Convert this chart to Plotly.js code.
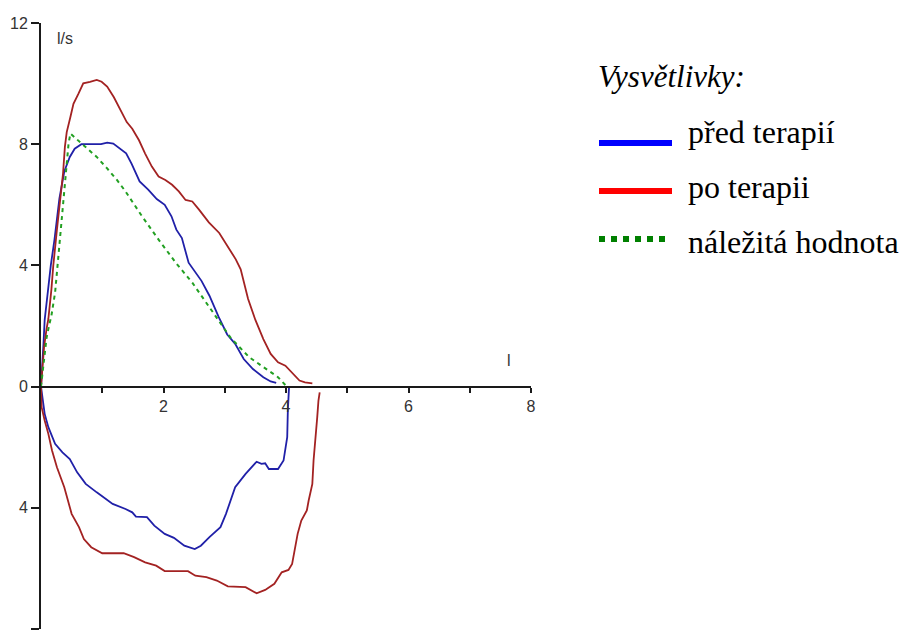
<!DOCTYPE html>
<html>
<head>
<meta charset="utf-8">
<script src="https://cdn.plot.ly/plotly-3.0.1.min.js"></script>
<style>html,body{margin:0;padding:0;background:#fff;}#chart{width:902px;height:635px;}</style>
</head>
<body>
<div id="chart"></div>
<script>
// ---- data (volume l, flow l/s; inspiratory flow plotted below the axis as negative) ----
const beforeExpX = [0,0.02,0.04,0.06,0.09,0.12,0.16,0.22,0.30,0.38,0.47,0.55,0.66,0.98,1.08,1.18,1.29,1.39,1.48,1.61,1.75,1.89,2.02,2.13,2.21,2.30,2.41,2.51,2.62,2.75,2.90,3.04,3.17,3.31,3.46,3.63,3.75,3.84];
const beforeExpY = [0,0.6,1.4,2.2,2.8,3.3,4.0,4.85,6.2,7.1,7.58,7.85,8.0,8.0,8.05,8.02,7.85,7.7,7.35,6.77,6.5,6.19,6.0,5.62,5.18,4.9,4.09,3.81,3.49,3.0,2.3,1.72,1.41,0.91,0.58,0.31,0.17,0.12];
const beforeInspX = [0,0.03,0.06,0.12,0.23,0.35,0.47,0.59,0.73,0.91,1.17,1.38,1.49,1.55,1.73,1.85,2.02,2.17,2.34,2.51,2.61,2.75,2.93,3.02,3.17,3.34,3.52,3.60,3.66,3.72,3.87,3.96,3.99,4.02,4.03,4.04,4.05];
const beforeInspY = [0,-0.46,-0.9,-1.34,-1.89,-2.17,-2.39,-2.83,-3.21,-3.49,-3.87,-4.04,-4.15,-4.29,-4.31,-4.59,-4.86,-4.99,-5.25,-5.36,-5.25,-4.97,-4.64,-4.2,-3.32,-2.88,-2.48,-2.55,-2.53,-2.72,-2.72,-2.44,-2.0,-1.67,-0.79,-0.3,0];
const afterExpX = [0,0.02,0.05,0.09,0.12,0.17,0.2,0.26,0.31,0.36,0.39,0.42,0.48,0.53,0.61,0.69,0.8,0.91,0.99,1.08,1.19,1.3,1.4,1.49,1.6,1.7,1.81,1.92,2.03,2.14,2.25,2.36,2.47,2.58,2.74,2.91,3.04,3.18,3.26,3.32,3.38,3.5,3.63,3.75,3.87,3.99,4.1,4.22,4.31,4.43];
const afterExpY = [0,0.5,1.3,1.9,2.23,3.21,3.98,5.18,6.16,7.04,7.91,8.4,8.9,9.33,9.66,10.01,10.06,10.12,10.06,9.9,9.55,9.11,8.73,8.51,8.13,7.69,7.26,6.93,6.82,6.66,6.44,6.16,6.11,5.84,5.42,5.07,4.63,4.2,3.87,3.43,2.9,2.2,1.57,1.08,0.8,0.69,0.47,0.2,0.14,0.11];
const afterInspX = [0,0.01,0.06,0.12,0.18,0.26,0.38,0.5,0.62,0.7,0.82,1.0,1.35,1.52,1.7,1.88,2.02,2.4,2.52,2.7,2.87,3.05,3.34,3.52,3.66,3.81,3.93,4.04,4.1,4.13,4.19,4.25,4.34,4.37,4.43,4.45,4.48,4.51,4.53,4.55];
const afterInspY = [0,-0.68,-1.12,-1.56,-2.11,-2.66,-3.32,-4.2,-4.64,-5.03,-5.3,-5.5,-5.5,-5.63,-5.8,-5.91,-6.09,-6.09,-6.24,-6.29,-6.4,-6.59,-6.62,-6.82,-6.71,-6.51,-6.13,-6.05,-5.85,-5.52,-4.86,-4.42,-4.09,-3.76,-3.21,-2.44,-1.56,-1.01,-0.46,-0.19];
const predX = [0,0.05,0.09,0.13,0.17,0.23,0.28,0.34,0.38,0.42,0.45,0.48,0.67,0.91,1.08,1.24,1.38,1.65,1.92,2.2,2.47,2.72,2.9,3.1,3.4,3.63,3.87,3.99];
const predY = [0,0.8,1.6,2.0,2.34,3.1,4.2,5.51,6.38,7.15,8.02,8.35,8.0,7.58,7.2,6.82,6.44,5.62,4.85,4.09,3.43,2.72,2.2,1.6,0.97,0.64,0.31,0.05];

const yTickVals = [12,8,4,0,-4,-8];
const yTickText = ['12','8','4','0','4','8'];
const xTickVals = [1,2,3,4,5,6,7,8];
const xTickText = ['','2','','4','','6','','8'];
const legendTitle = 'Vysvětlivky:';
const legendNames = ['před terapií','po terapii','náležitá hodnota'];
const yUnit = 'l/s';
const xUnit = 'l';

// ---- styling ----
const BLUE = '#2020a8', RED = '#a32222', GREEN = '#22a022';
const ML = 41, MR = 371, MT = 23, MB = 6, W = 902, H = 635;
const PW = W - ML - MR, PH = H - MT - MB;
const px2x = p => (p - ML) / PW;
const px2y = p => (H - MB - p) / PH;

const traces = [
  {x: beforeExpX, y: beforeExpY, mode: 'lines', line: {color: BLUE, width: 1.8}, name: legendNames[0]},
  {x: beforeInspX, y: beforeInspY, mode: 'lines', line: {color: BLUE, width: 1.8}, name: legendNames[0]},
  {x: afterExpX, y: afterExpY, mode: 'lines', line: {color: RED, width: 1.8}, name: legendNames[1]},
  {x: afterInspX, y: afterInspY, mode: 'lines', line: {color: RED, width: 1.8}, name: legendNames[1]},
  {x: predX, y: predY, mode: 'lines', line: {color: GREEN, width: 2, dash: '4px,4px'}, name: legendNames[2]}
];

const tickFont = {family: 'Liberation Sans, Arial, sans-serif', size: 16, color: '#333'};
const serif = 'Liberation Serif, Times New Roman, serif';

const layout = {
  width: W, height: H,
  margin: {l: ML, r: MR, t: MT, b: MB, pad: 0},
  paper_bgcolor: '#fff', plot_bgcolor: '#fff',
  showlegend: false,
  xaxis: {
    range: [0, 8], anchor: 'free', position: 0.4,
    showgrid: false, zeroline: false, showline: true, linecolor: '#1a1a1a', linewidth: 2,
    ticks: 'outside', ticklen: 5, tickwidth: 2, tickcolor: '#1a1a1a',
    tickmode: 'array', tickvals: xTickVals, ticktext: xTickText, tickfont: tickFont
  },
  yaxis: {
    range: [-8, 12],
    showgrid: false, zeroline: false, showline: true, linecolor: '#1a1a1a', linewidth: 2,
    ticks: 'outside', ticklen: 8, tickwidth: 2, tickcolor: '#1a1a1a',
    tickmode: 'array', tickvals: yTickVals, ticktext: yTickText, tickfont: tickFont
  },
  annotations: [
    {xref: 'paper', yref: 'paper', x: px2x(55), y: px2y(38), xanchor: 'left', yanchor: 'middle', text: yUnit, showarrow: false, font: tickFont},
    {xref: 'paper', yref: 'paper', x: px2x(509), y: px2y(360), xanchor: 'center', yanchor: 'middle', text: xUnit, showarrow: false, font: tickFont},
    {xref: 'paper', yref: 'paper', x: px2x(596), y: px2y(76), xanchor: 'left', yanchor: 'middle', text: '<i>' + legendTitle + '</i>', showarrow: false, font: {family: serif, size: 31, color: '#000'}},
    {xref: 'paper', yref: 'paper', x: px2x(686), y: px2y(132), xanchor: 'left', yanchor: 'middle', text: legendNames[0], showarrow: false, font: {family: serif, size: 32, color: '#000'}},
    {xref: 'paper', yref: 'paper', x: px2x(686), y: px2y(187), xanchor: 'left', yanchor: 'middle', text: legendNames[1], showarrow: false, font: {family: serif, size: 32, color: '#000'}},
    {xref: 'paper', yref: 'paper', x: px2x(686), y: px2y(242), xanchor: 'left', yanchor: 'middle', text: legendNames[2], showarrow: false, font: {family: serif, size: 32, color: '#000'}}
  ],
  shapes: [
    {type: 'line', xref: 'paper', yref: 'paper', x0: px2x(599), x1: px2x(672), y0: px2y(143), y1: px2y(143), line: {color: '#0000ff', width: 6}},
    {type: 'line', xref: 'paper', yref: 'paper', x0: px2x(599), x1: px2x(672), y0: px2y(191), y1: px2y(191), line: {color: '#ff0000', width: 6}},
    {type: 'line', xref: 'paper', yref: 'paper', x0: px2x(599), x1: px2x(666), y0: px2y(239), y1: px2y(239), line: {color: '#008000', width: 6, dash: '6px,6px'}}
  ]
};

Plotly.newPlot('chart', traces, layout, {staticPlot: true, displayModeBar: false});
</script>
</body>
</html>
